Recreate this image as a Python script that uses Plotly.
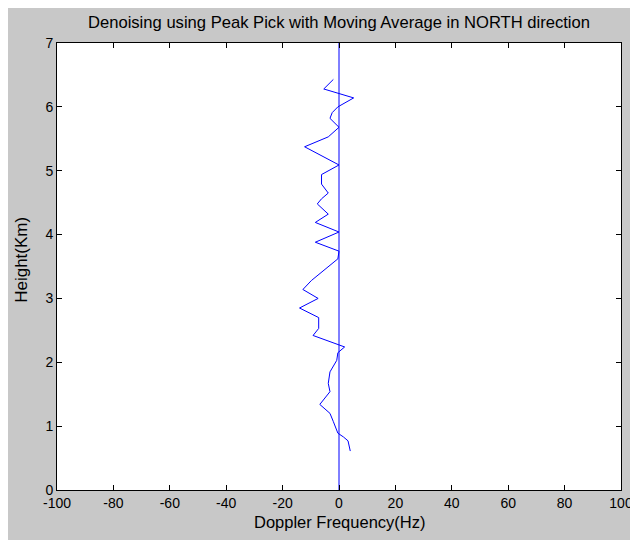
import plotly.graph_objects as go

height_km = [6.43, 6.28, 6.14, 6.00, 5.91, 5.82, 5.68, 5.53, 5.375, 5.09, 4.94, 4.79, 4.65, 4.56,
             4.48, 4.32, 4.19, 4.04, 3.88, 3.74, 3.62, 3.54, 3.46, 3.28, 3.14, 3.00, 2.85, 2.70,
             2.53, 2.42, 2.24, 2.15, 2.03, 1.85, 1.67, 1.54, 1.34, 1.20, 1.07, 0.89, 0.83, 0.77, 0.61]
doppler_hz = [-2.0, -5.4, 5.2, -0.4, -2.4, -3.2, 0.0, -3.8, -12.2, 0.0, -6.2, -6.2, -3.8, -6.2,
              -7.7, -3.8, -8.4, 0.0, -8.4, 0.0, -0.4, -2.6, -5.0, -9.8, -12.8, -7.4, -14.0, -7.2,
              -7.2, -9.2, 2.0, -0.4, -0.8, -3.2, -3.8, -3.2, -6.8, -3.2, -2.0, -0.4, 1.6, 3.2, 4.0]
zero_line_x = [0, 0]
zero_line_y = [0, 7]
x_ticks = [-100, -80, -60, -40, -20, 0, 20, 40, 60, 80, 100]
y_ticks = [0, 1, 2, 3, 4, 5, 6, 7]

# the page body adds an 8px margin at top/left, so the figure is 8px smaller
W, H = 630, 532
ML, MR, MT, MB = 49, 17, 35, 50
PW, PH = W - ML - MR, H - MT - MB

fig = go.Figure()
fig.add_trace(go.Scatter(x=zero_line_x, y=zero_line_y, mode="lines",
                         line=dict(color="#0000ff", width=1), showlegend=False))
fig.add_trace(go.Scatter(x=doppler_hz, y=height_km, mode="lines",
                         line=dict(color="#0000ff", width=1), showlegend=False))

tick_font = dict(family="Liberation Sans", size=14, color="black")
axis_common = dict(showline=True, linecolor="black", linewidth=1, mirror="ticks",
                   ticks="inside", ticklen=5, tickcolor="black", showgrid=False,
                   zeroline=False, automargin=False, tickfont=tick_font)
fig.update_xaxes(range=[-100, 100], tickvals=x_ticks, ticktext=[str(v) for v in x_ticks],
                 **axis_common)
fig.update_yaxes(range=[0, 7], tickvals=y_ticks, ticktext=[str(v) for v in y_ticks],
                 **axis_common)

white = dict(color="white", width=0)
fig.update_layout(
    width=W, height=H,
    margin=dict(l=ML, r=MR, t=MT, b=MB),
    paper_bgcolor="#c8c8c8", plot_bgcolor="white",
    title=dict(text="Denoising using Peak Pick with Moving Average in NORTH direction",
               xref="paper", x=0.5, xanchor="center", y=1 - 14 / H, yanchor="middle",
               font=dict(family="Liberation Sans", size=16.6, color="black")),
    annotations=[
        dict(text="Doppler Frequency(Hz)", xref="paper", yref="paper", x=0.5,
             y=-32 / PH, xanchor="center", yanchor="middle", showarrow=False,
             font=dict(family="Liberation Sans", size=16.5, color="black")),
        dict(text="Height(Km)", xref="paper", yref="paper", x=-35 / PW,
             y=0.515, xanchor="center", yanchor="middle", showarrow=False, textangle=-90,
             font=dict(family="Liberation Sans", size=17, color="black")),
    ],
    shapes=[
        dict(type="rect", xref="paper", yref="paper", x0=1 + (MR - 5) / PW, x1=1 + MR / PW,
             y0=-MB / PH, y1=1 + MT / PH, fillcolor="white", line=white, layer="below"),
    ],
)

fig.write_html("out.html")
